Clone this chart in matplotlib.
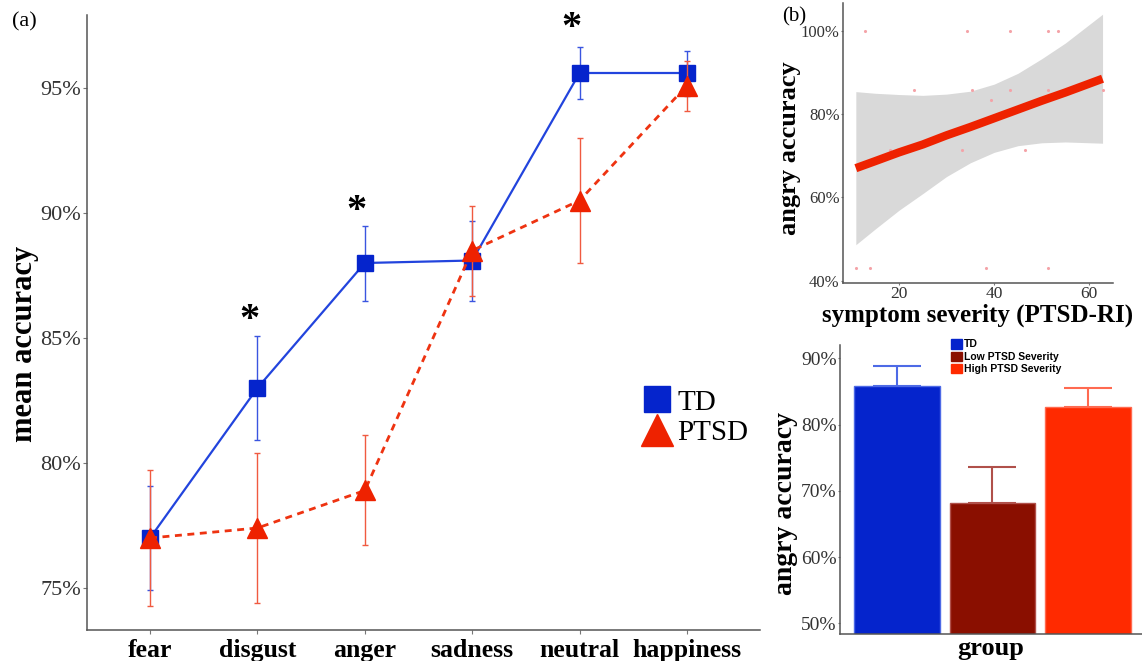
import numpy as np
import matplotlib.pyplot as plt
from matplotlib.patches import Patch
from matplotlib.lines import Line2D

plt.rcParams['font.family'] = ['Liberation Serif', 'DejaVu Serif']

# ---- panel (a): mean accuracy per emotion
emotions = ["fear", "disgust", "anger", "sadness", "neutral", "happiness"]
td_mean = [77.0, 83.0, 88.0, 88.1, 95.6, 95.6]
td_err = [2.1, 2.1, 1.5, 1.6, 1.05, 0.9]
ptsd_mean = [77.0, 77.4, 78.9, 88.5, 90.5, 95.1]
ptsd_err = [2.7, 3.0, 2.2, 1.8, 2.5, 1.0]
sig_idx = [1, 2, 4]
sig_y = [85.7, 90.06, 97.38]

# ---- panel (b) top: scatter + linear fit
severity = [12.8, 34.2, 43.4, 51.4, 53.5, 23.2, 35.3, 43.4, 51.4, 62.8,
            39.4, 18.0, 33.2, 46.4, 10.9, 13.9, 38.3, 51.4]
angry_acc = [100, 100, 100, 100, 100, 85.7, 85.7, 85.7, 85.7, 85.7,
             83.3, 71.4, 71.4, 71.4, 42.9, 42.9, 42.9, 42.9]
fit_x = [10.9, 15, 20, 25, 30, 35, 40, 45, 50, 55, 62.8]
fit_y = [67.0, 68.7, 70.8, 72.7, 74.9, 76.9, 79.0, 81.1, 83.2, 85.2, 88.5]
ci_hi = [85.4, 85.0, 84.7, 84.5, 84.8, 85.5, 87.2, 89.8, 93.3, 97.1, 104.0]
ci_lo = [48.6, 52.4, 56.9, 60.9, 65.0, 68.3, 70.8, 72.4, 73.1, 73.3, 73.0]

# ---- panel (b) bottom: bar chart by group
groups = ["TD", "Low PTSD Severity", "High PTSD Severity"]
grp_mean = [85.8, 68.1, 82.7]
grp_err = [3.0, 5.5, 2.8]
grp_col = ["#0524cc", "#8a0f00", "#ff2a00"]
grp_edge = ["#4d6ae6", "#b0504a", "#ff6a50"]

W, H = 1142, 661
fig = plt.figure(figsize=(W / 100, H / 100), dpi=100)


def box(x0, y0, x1, y1):
    return [x0 / W, 1 - y1 / H, (x1 - x0) / W, (y1 - y0) / H]


def style(ax):
    for s in ["top", "right"]:
        ax.spines[s].set_visible(False)
    for s in ["left", "bottom"]:
        ax.spines[s].set_color("#555555")
        ax.spines[s].set_linewidth(1.1)
    ax.tick_params(color="#777777", length=3, width=0.8)


# (a)
ax = fig.add_axes(box(87, 15, 760, 630))
style(ax)
ax.tick_params(axis="y", pad=1.5)
x = np.arange(len(emotions))
ax.errorbar(x, td_mean, yerr=td_err, color="#2244dd", lw=1.6, marker="s",
            ms=12, mfc="#0524cc", mec="#0524cc", ecolor="#3a55e0",
            elinewidth=1.0, capsize=2.5, capthick=1.0, zorder=3)
ax.errorbar(x, ptsd_mean, yerr=ptsd_err, color="#ee3311", lw=2.0, ls=(0, (2.5, 2)),
            marker="^", ms=15, mfc="#ee2200", mec="#ee2200", ecolor="#f05a40",
            elinewidth=1.0, capsize=2.5, capthick=1.0, zorder=4)
for i, yv in zip(sig_idx, sig_y):
    ax.text(x[i] - 0.075, yv, "*", ha="center", va="center", fontsize=29, fontweight="bold")
ax.set_xlim(-0.587, 5.68)
ax.set_ylim(73.32, 97.92)
ax.set_yticks([75, 80, 85, 90, 95])
ax.set_yticklabels(["75%", "80%", "85%", "90%", "95%"], fontsize=16, color="#333333")
ax.set_xticks(x)
ax.set_xticklabels(emotions, fontsize=18.5, fontweight="bold")
ax.set_ylabel("mean accuracy", fontsize=22, fontweight="bold")
ax.yaxis.set_label_coords(-0.072, 0.465)
handles = [Line2D([], [], ls="none", marker="s", ms=19, color="#0524cc"),
           Line2D([], [], ls="none", marker="^", ms=23, color="#ee2200")]
ax.legend(handles, ["TD", "PTSD"], loc="center left", bbox_to_anchor=(0.804, 0.345),
          frameon=False, fontsize=21, handlelength=1.0, handletextpad=0.2,
          labelspacing=0.15, borderpad=0)
fig.text(12 / W, 1 - 22 / H, "(a)", fontsize=16, va="center")

# (b) top
ax2 = fig.add_axes(box(843, 3, 1113, 283))
style(ax2)
ax2.tick_params(length=1.5, pad=1)
ax2.fill_between(fit_x, ci_lo, ci_hi, color="#d9d9d9", lw=0, zorder=1)
ax2.plot(fit_x, fit_y, color="#ee2200", lw=6, solid_capstyle="butt", zorder=3)
ax2.scatter(severity, angry_acc, s=5, color="#f4a3a8", lw=0, zorder=2)
ax2.set_xlim(8.2, 65.0)
ax2.set_ylim(39.4, 106.7)
ax2.set_xticks([20, 40, 60])
ax2.set_xticklabels(["20", "40", "60"], fontsize=12.5, color="#333333")
ax2.set_yticks([40, 60, 80, 100])
ax2.set_yticklabels(["40%", "60%", "80%", "100%"], fontsize=12, color="#333333")
ax2.set_xlabel("symptom severity (PTSD-RI)", fontsize=18, fontweight="bold", labelpad=0.5)
ax2.set_ylabel("angry accuracy", fontsize=19, fontweight="bold")
ax2.yaxis.set_label_coords(-0.155, 0.48)
fig.text(782 / W, 1 - 17 / H, "(b)", fontsize=15, va="center")

# (b) bottom
ax3 = fig.add_axes(box(840, 345, 1142, 634))
style(ax3)
ax3.tick_params(length=1.5, pad=1)
xb = np.arange(len(groups))
ax3.bar(xb, grp_mean, width=0.9, color=grp_col, edgecolor=grp_edge, lw=1.0, zorder=2)
for i in range(len(groups)):
    ax3.errorbar(xb[i], grp_mean[i], yerr=[[0], [grp_err[i]]], color=grp_edge[i],
                 elinewidth=1.5, capsize=17, capthick=1.5, zorder=1)
ax3.set_xlim(-0.6, 2.57)
ax3.set_ylim(48.4, 92.0)
ax3.set_xticks([])
ax3.set_yticks([50, 60, 70, 80, 90])
ax3.set_yticklabels(["50%", "60%", "70%", "80%", "90%"], fontsize=14, color="#333333")
ax3.set_xlabel("group", fontsize=19, fontweight="bold", labelpad=2)
ax3.set_ylabel("angry accuracy", fontsize=20, fontweight="bold")
ax3.yaxis.set_label_coords(-0.14, 0.45)
ax3.legend([Patch(color=c) for c in grp_col], groups, loc="upper left",
           bbox_to_anchor=(946 / W, 1 - 334 / H), bbox_transform=fig.transFigure,
           frameon=False, prop={"family": "Liberation Sans", "weight": "bold", "size": 7.5},
           handlelength=1.0, handleheight=1.0, handletextpad=0.2, labelspacing=0.2,
           borderpad=0)

fig.savefig("out.png", dpi=100)
